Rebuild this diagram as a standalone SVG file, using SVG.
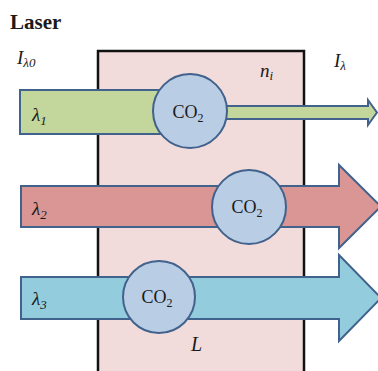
<svg xmlns="http://www.w3.org/2000/svg" width="378" height="371" viewBox="0 0 378 371">
<style>
.shape{stroke:#41628c;stroke-width:2;stroke-linejoin:miter}
.serif{font-family:"Liberation Serif","DejaVu Serif",serif;fill:#1a1a1a}
.it{font-style:italic}
.co{font-size:18px;text-anchor:middle}
.sub{font-size:12px}
.lam{font-size:19px;font-style:italic}
</style>
<rect width="378" height="371" fill="#ffffff"/>
<g id="medium">
  <rect x="98" y="51" width="206" height="330" fill="#f2dcdb" stroke="#111" stroke-width="2.5"/>
</g>
<g id="connectors">
  <path id="beam1" class="shape" fill="#c3d69b" d="M20,90 H170 V106 H368 V100 L377,112.5 L368,125 V119 H170 V134 H20 Z"/>
  <path id="beam2" class="shape" fill="#d99694" d="M21,186 H339 V165 L381,206.5 L339,248 V227 H21 Z"/>
  <path id="beam3" class="shape" fill="#93cddd" d="M21,277 H339 V255 L381,298 L339,341 V319 H21 Z"/>
</g>
<g id="co2-1">
  <circle class="shape" cx="190" cy="111" r="37" fill="#b9cde5"/>
  <text class="serif co" x="188" y="118">CO<tspan class="sub" dy="4">2</tspan></text>
</g>
<g id="co2-2">
  <circle class="shape" cx="249" cy="207" r="37" fill="#b9cde5"/>
  <text class="serif co" x="247" y="213">CO<tspan class="sub" dy="4">2</tspan></text>
</g>
<g id="co2-3">
  <circle class="shape" cx="159" cy="297" r="36" fill="#b9cde5"/>
  <text class="serif co" x="157" y="303">CO<tspan class="sub" dy="4">2</tspan></text>
</g>
<g id="labels">
  <text class="serif" x="10" y="29" font-size="21" font-weight="bold">Laser</text>
  <text class="serif it" x="17" y="64" font-size="19">I<tspan font-size="13" dy="3">λ0</tspan></text>
  <text class="serif it" x="334" y="67" font-size="19">I<tspan font-size="13" dy="3">λ</tspan></text>
  <text class="serif it" x="260" y="77" font-size="19">n<tspan font-size="13" dy="3">i</tspan></text>
  <text class="serif it" x="191" y="351" font-size="20">L</text>
  <text class="serif lam" x="32" y="121">λ<tspan font-size="13" dy="4">1</tspan></text>
  <text class="serif lam" x="32" y="215">λ<tspan font-size="13" dy="4">2</tspan></text>
  <text class="serif lam" x="32" y="305">λ<tspan font-size="13" dy="4">3</tspan></text>
</g>
</svg>
